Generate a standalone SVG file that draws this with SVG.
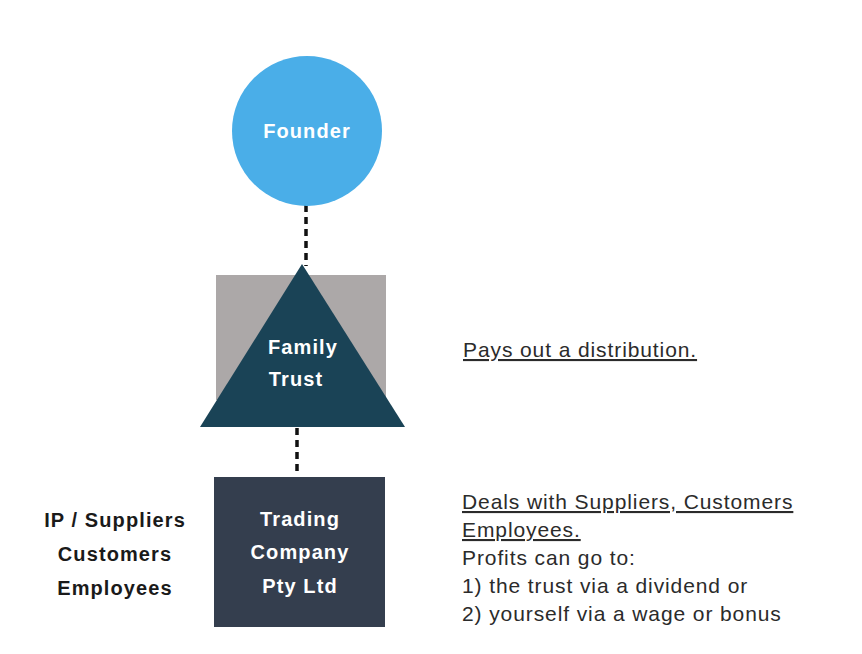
<svg xmlns="http://www.w3.org/2000/svg" width="862" height="654" viewBox="0 0 862 654">
<style>
.w{font-family:"Liberation Sans",Arial,sans-serif;font-weight:bold;font-size:20px;letter-spacing:1.1px;fill:#ffffff}
.b{font-family:"Liberation Sans",Arial,sans-serif;font-weight:bold;font-size:20px;letter-spacing:1.1px;fill:#1a1a1a}
.n{font-family:"Liberation Sans",Arial,sans-serif;font-size:21px;letter-spacing:0.9px;fill:#2b2b2b}
.u{text-decoration:underline}
.c{stroke:#111;stroke-width:3.5;stroke-dasharray:7,5;fill:none}
</style>
<rect width="862" height="654" fill="#ffffff"/>
<g id="connectors">
<line class="c" x1="306" y1="205" x2="306" y2="266"/>
<line class="c" x1="297" y1="428" x2="297" y2="472"/>
</g>
<g id="founder">
<circle cx="307" cy="131" r="75" fill="#4aaee8"/>
<text class="w" x="307" y="138" text-anchor="middle">Founder</text>
</g>
<g id="family-trust">
<rect x="216" y="275" width="170" height="125" fill="#aca8a8"/>
<polygon points="302,264 405,427 200,427" fill="#1a4356"/>
<text class="w" x="303" y="354" text-anchor="middle">Family</text>
<text class="w" x="296" y="386" text-anchor="middle">Trust</text>
</g>
<g id="trading-company">
<rect x="214" y="477" width="171" height="150" fill="#343e4e"/>
<text class="w" x="300" y="526" text-anchor="middle">Trading</text>
<text class="w" x="300" y="559" text-anchor="middle">Company</text>
<text class="w" x="300" y="593" text-anchor="middle">Pty Ltd</text>
</g>
<g id="stakeholders">
<text class="b" x="115" y="527" text-anchor="middle">IP / Suppliers</text>
<text class="b" x="115" y="561" text-anchor="middle">Customers</text>
<text class="b" x="115" y="595" text-anchor="middle">Employees</text>
</g>
<g id="notes">
<text class="n u" x="463" y="357">Pays out a distribution.</text>
<text class="n u" x="462" y="509">Deals with Suppliers, Customers</text>
<text class="n u" x="462" y="537">Employees.</text>
<text class="n" x="462" y="565">Profits can go to:</text>
<text class="n" x="462" y="593">1) the trust via a dividend or</text>
<text class="n" x="462" y="621">2) yourself via a wage or bonus</text>
</g>
</svg>
